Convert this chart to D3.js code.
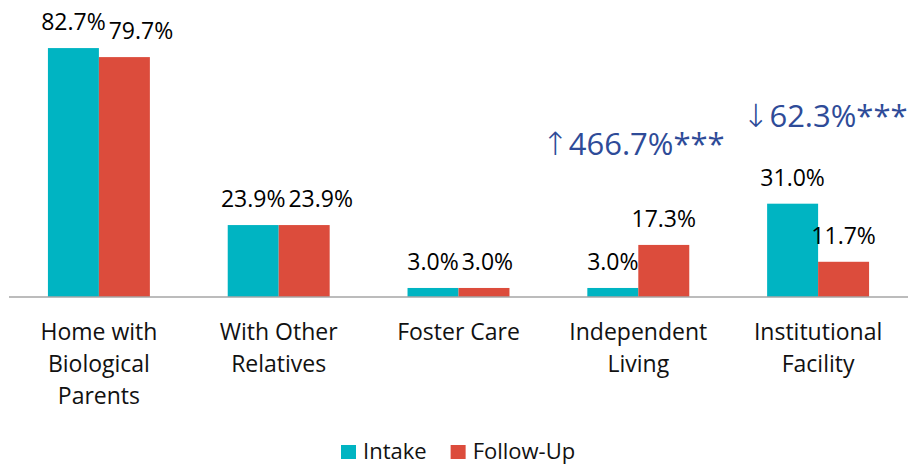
<!DOCTYPE html>
<html>
<head>
<meta charset="utf-8">
<script src="https://cdn.jsdelivr.net/npm/d3@7"></script>
<style>
  html, body { margin: 0; padding: 0; background: #fff; }
  svg { display: block; font-family: "Open Sans", "Noto Sans", sans-serif; }
</style>
</head>
<body>
<svg id="chart" width="914" height="465"></svg>
<script>
// Living situation at intake vs. follow-up
const categories = [
  ["Home with", "Biological", "Parents"],
  ["With Other", "Relatives"],
  ["Foster Care"],
  ["Independent", "Living"],
  ["Institutional", "Facility"]
];
const seriesNames = ["Intake", "Follow-Up"];
const intake   = [82.7, 23.9, 3.0, 3.0, 31.0];
const followUp = [79.7, 23.9, 3.0, 17.3, 11.7];
// change annotations: category index and text
const changeCategory = [3, 4];
const changeArrow = ["↑", "↓"];
const changeText = ["466.7%***", "62.3%***"];

const colors = ["#00B4C2", "#DC4C3C"];
const svg = d3.select("#chart");
const baseY = 297;

const keys = categories.map((c, i) => i);
const x = d3.scaleBand().domain(keys).range([9, 908])
  .paddingInner(0.433).paddingOuter(0.2165);
const xs = d3.scaleBand().domain([0, 1]).range([0, x.bandwidth()]);
const y = d3.scaleLinear().domain([0, 100]).range([baseY, baseY - 301]);

const series = [intake, followUp];
const bars = [];
series.forEach((vals, s) => vals.forEach((v, i) => bars.push({ s, i, v })));

svg.append("g").selectAll("rect").data(bars).join("rect")
  .attr("x", d => x(d.i) + xs(d.s))
  .attr("y", d => y(d.v))
  .attr("width", xs.bandwidth())
  .attr("height", d => y(0) - y(d.v))
  .attr("fill", d => colors[d.s]);

// baseline axis
svg.append("line")
  .attr("x1", x.range()[0]).attr("x2", x.range()[1])
  .attr("y1", y(0)).attr("y2", y(0))
  .attr("stroke", "#A6A6A6").attr("stroke-width", 1.5);

// value labels, pushing the follow-up label right when it would collide
const labelG = svg.append("g").attr("font-size", 23).attr("fill", "#000");
const intakeRight = {};
const fmt = v => v.toFixed(1) + "%";
[0, 1].forEach(s => {
  series[s].forEach((v, i) => {
    const cx = x(i) + xs(s) + xs.bandwidth() / 2;
    const by = y(v) - 18;
    const t = labelG.append("text").attr("y", by).text(fmt(v));
    const w = t.node().getComputedTextLength();
    let left = cx - w / 2;
    if (s === 0) {
      intakeRight[i] = { right: left + w, y: by };
    } else {
      const prev = intakeRight[i];
      if (Math.abs(prev.y - by) < 24 && left < prev.right + 3) left = prev.right + 3;
    }
    t.attr("x", left);
  });
});

// category labels
const catG = svg.append("g").attr("font-size", 23).attr("fill", "#111").attr("text-anchor", "middle");
categories.forEach((lines, i) => {
  const t = catG.append("text").attr("x", x(i) + x.bandwidth() / 2).attr("y", 340);
  lines.forEach((ln, k) => t.append("tspan")
    .attr("x", x(i) + x.bandwidth() / 2).attr("dy", k === 0 ? 0 : 32).text(ln));
});

// change annotations
const annG = svg.append("g").attr("font-size", 31).attr("fill", "#2E4B98").attr("text-anchor", "middle");
changeCategory.forEach((ci, k) => {
  const top = Math.max(intake[ci], followUp[ci]);
  const t = annG.append("text")
    .attr("x", x(ci) + x.bandwidth() / 2 + (k === 0 ? -5 : 7))
    .attr("y", y(top) - (k === 0 ? 90 : 77));
  t.append("tspan").attr("font-family", "DejaVu Sans").attr("font-weight", 200)
    .attr("font-size", 32).text(changeArrow[k]);
  t.append("tspan").text(changeText[k]);
});

// legend
const legend = svg.append("g").attr("font-size", 22).attr("fill", "#111");
let lx = 341;
seriesNames.forEach((name, s) => {
  legend.append("rect").attr("x", lx).attr("y", 445).attr("width", 15).attr("height", 14).attr("fill", colors[s]);
  const t = legend.append("text").attr("x", lx + 22).attr("y", 459).text(name);
  lx += 22 + t.node().getComputedTextLength() + 24;
});
</script>
</body>
</html>
